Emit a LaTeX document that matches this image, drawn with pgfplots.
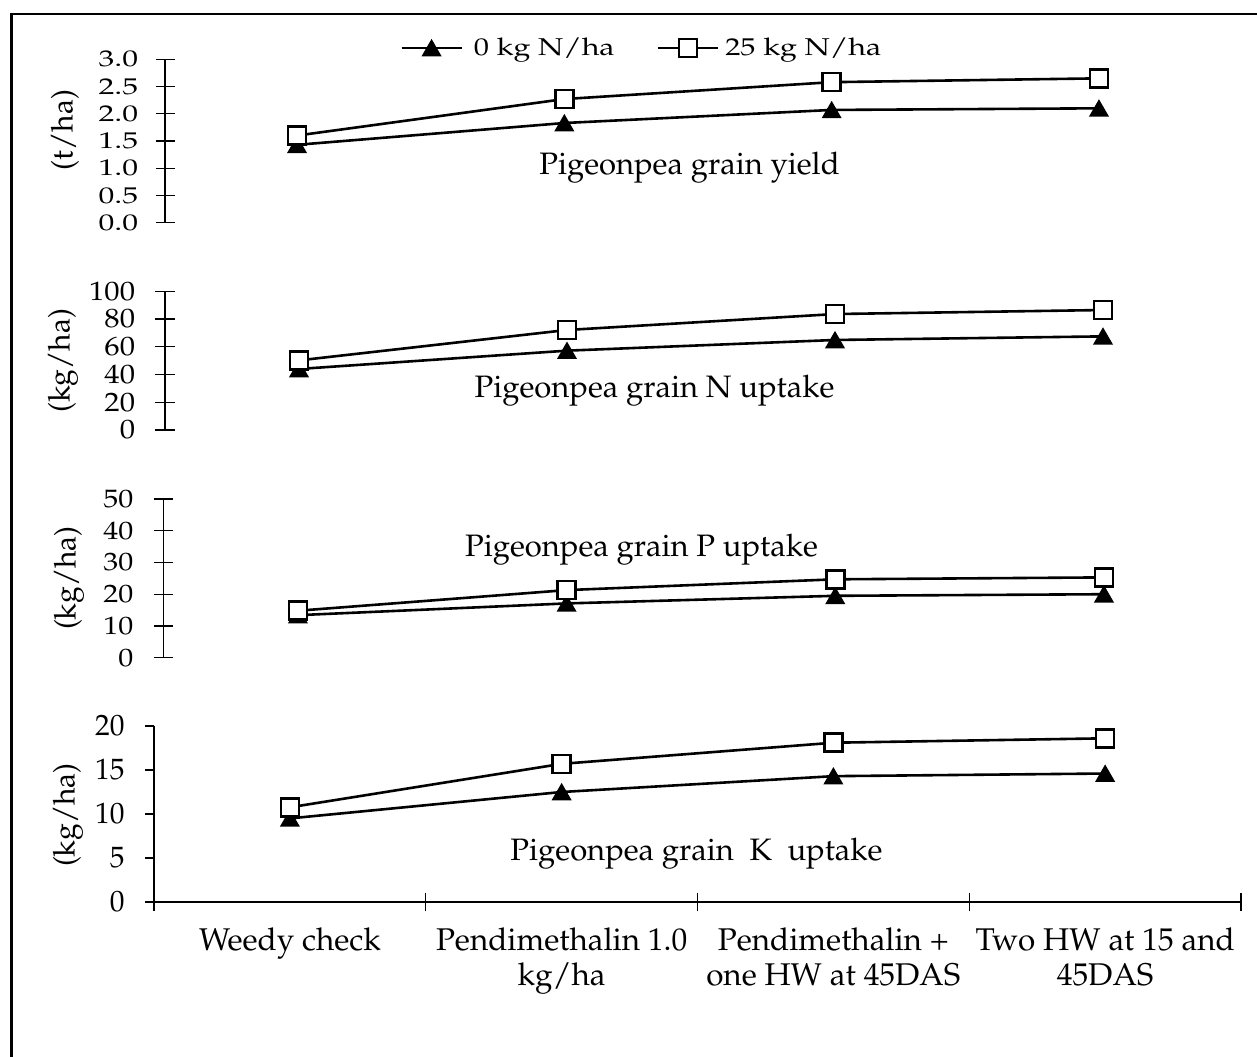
\documentclass[border=0pt]{standalone}
\usepackage[T1]{fontenc}
\usepackage{mathpazo}
\usepackage{graphicx}
\usepackage{pgfplots}
\pgfplotsset{compat=1.18}
\newcommand{\fs}[1]{\fontsize{#1}{#1}\selectfont}
\newcommand{\sqz}[2]{\scalebox{1}[#1]{#2}}
\pgfplotsset{
  base/.style={
    scale only axis, anchor=south west, clip=false,
    axis y line*=left,
    axis line style={-, line width=0.6pt, black},
    tick style={line width=0.6pt, black},
    major tick length=9.5pt, tick align=center,
    yticklabel style={anchor=east, inner sep=0pt, xshift=-10pt},
    xmax=3.5,
  },
  p4/.style={scale only axis, anchor=south west, clip=false,
    at={(77pt,77pt)}, width=543.5pt, height=88pt,
    xmin=-0.5, xmax=3.5, ymin=0, ymax=20,
    axis line style={-, line width=0.6pt, black},
    tick style={line width=0.6pt, black}},
  tri/.style={black, line width=1.3pt, mark=triangle*, mark size=5pt,
    mark options={fill=black, line width=0.8pt, yshift=-1.25pt}},
  sqr/.style={black, line width=1.3pt, mark=square*, mark size=4.5pt,
    mark options={fill=white, line width=1.3pt}},
}
\begin{document}
\begin{tikzpicture}
\useasboundingbox (0,0) rectangle (628.5pt,528pt);
\draw[line width=1.2pt] (5.65pt,521.1pt) rectangle (637.5pt,-9.5pt);

% Panel 1
\begin{axis}[base, axis x line=none, at={(82.5pt,416.65pt)}, width=533.8pt, height=81.7pt,
  xmin=-0.494, ymin=0, ymax=3,
  ytick={0,0.5,1,1.5,2,2.5,3},
  yticklabels={\sqz{.72}{0.0},\sqz{.72}{0.5},\sqz{.72}{1.0},\sqz{.72}{1.5},\sqz{.72}{2.0},\sqz{.72}{2.5},\sqz{.72}{3.0}},
  yticklabel style={font=\fs{15.8}, xshift=1.5pt},
  legend columns=2,
  legend style={draw=none, fill=none, at={(0.22,1.069)}, anchor=west, inner sep=0pt,
    font=\fs{15.2}, /tikz/every even column/.append style={column sep=0pt}},
  legend image code/.code={\draw[mark repeat=2,mark phase=2] plot coordinates {(0pt,0pt)(15pt,0pt)(30pt,0pt)};},
]
\addplot[tri] coordinates {(0,1.43) (1,1.83) (2,2.07) (3,2.10)};
\addlegendentry{\rule{3.5pt}{0pt}\sqz{.8}{0 kg N/ha}\rule{19pt}{0pt}}
\addplot[sqr] coordinates {(0,1.60) (1,2.27) (2,2.58) (3,2.65)};
\addlegendentry{\rule{1pt}{0pt}\sqz{.8}{25 kg N/ha}}
\end{axis}

% Panel 2
\begin{axis}[base, axis x line=none, at={(82.5pt,313pt)}, width=536pt, height=69.35pt,
  xmin=-0.5, ymin=0, ymax=100,
  ytick={0,20,40,60,80,100},
  yticklabels={\sqz{.87}{0},\sqz{.87}{20},\sqz{.87}{40},\sqz{.87}{60},\sqz{.87}{80},\sqz{.87}{100}},
  yticklabel style={font=\fs{15.3}},
]
\addplot[tri] coordinates {(0,44) (1,57.2) (2,64.9) (3,67.5)};
\addplot[sqr] coordinates {(0,50.2) (1,72.1) (2,83.6) (3,86.5)};
\end{axis}

% Panel 3
\begin{axis}[base, axis x line=none, at={(81.65pt,199.15pt)}, width=537.5pt, height=79.35pt,
  xmin=-0.501, ymin=0, ymax=50,
  ytick={0,10,20,30,40,50},
  yticklabels={\sqz{.84}{0},\sqz{.84}{10},\sqz{.84}{20},\sqz{.84}{30},\sqz{.84}{40},\sqz{.84}{50}},
  yticklabel style={font=\fs{15}},
]
\addplot[tri] coordinates {(0,13.4) (1,17.1) (2,19.5) (3,20.0)};
\addplot[sqr] coordinates {(0,14.8) (1,21.3) (2,24.7) (3,25.3)};
\end{axis}

% Panel 4: category labels
\begin{axis}[p4, axis x line*=bottom, axis y line=none,
  x axis line style={draw=none},
  major tick length=0pt,
  ytick=\empty,
  xtick={0,1,2,3},
  xticklabels={Weedy check, Pendimethalin 1.0\\kg/ha, Pendimethalin +\\one HW at 45DAS, Two HW at 15 and\\45DAS},
  xticklabel style={font=\fontsize{15.7}{17.8}\selectfont, align=center, anchor=north, inner sep=0pt, yshift=-12.5pt},
]
\end{axis}
% Panel 4: y axis with outside ticks
\begin{axis}[p4, axis x line=none, axis y line*=left,
  tick align=outside, major tick length=4.5pt,
  ytick={0,5,10,15,20},
  yticklabels={0,5,10,15,20},
  yticklabel style={font=\fs{14.7}, anchor=east, inner sep=0pt, xshift=-10pt},
]
\end{axis}
% Panel 4: x axis and data
\begin{axis}[p4, axis x line*=bottom, axis y line=none,
  tick align=center, major tick length=9pt,
  ytick=\empty,
  xtick={-0.5,0.5,1.5,2.5,3.5},
  xticklabels={},
]
\addplot[tri] coordinates {(0,9.5) (1,12.5) (2,14.3) (3,14.6)};
\addplot[sqr] coordinates {(0,10.76) (1,15.7) (2,18.1) (3,18.6)};
\end{axis}

% panel titles
\node[font=\fs{15.5}, anchor=base] at (344.75pt,440.5pt) {Pigeonpea grain yield};
\node[font=\fs{15.5}, anchor=base] at (327.25pt,329pt) {Pigeonpea grain N uptake};
\node[font=\fs{15.5}, anchor=base] at (320.75pt,250pt) {Pigeonpea grain P uptake};
\node[font=\fs{15.5}, anchor=base] at (348.25pt,98pt) {Pigeonpea grain \ K \ uptake};
% y labels
\node[font=\fs{15}, rotate=90] at (32.5pt,463pt) {(t/ha)};
\node[font=\fs{15}, rotate=90] at (31.5pt,347.5pt) {(kg/ha)};
\node[font=\fs{15}, rotate=90] at (34.5pt,239pt) {(kg/ha)};
\node[font=\fs{15}, rotate=90] at (34pt,120.5pt) {(kg/ha)};
\end{tikzpicture}
\end{document}
